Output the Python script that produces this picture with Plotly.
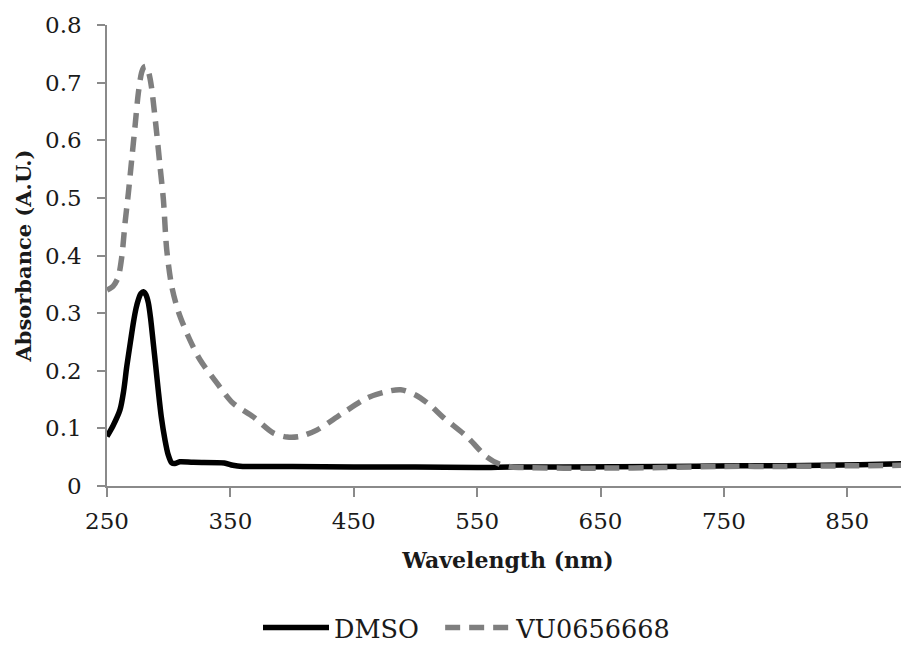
import plotly.graph_objects as go

# DMSO spectrum (wavelength nm, absorbance A.U.)
dmso_wl = [250, 255, 260.5, 263.5, 266, 269, 271.5, 273.5, 275.5, 277.5, 279.5, 281.5, 283.5, 285.5, 287.5, 289.5, 291.5, 294, 297, 299.5, 302.5, 305, 309, 320, 345, 352, 360, 400, 450, 500, 550, 580, 620, 700, 760, 800, 860, 900]
dmso_abs = [0.086, 0.105, 0.132, 0.165, 0.207, 0.25, 0.285, 0.308, 0.324, 0.334, 0.337, 0.332, 0.318, 0.288, 0.248, 0.208, 0.167, 0.12, 0.08, 0.055, 0.04, 0.039, 0.042, 0.041, 0.040, 0.036, 0.034, 0.034, 0.033, 0.033, 0.032, 0.033, 0.033, 0.034, 0.035, 0.035, 0.037, 0.039]

# VU0656668 spectrum
vu_wl = [250, 255, 259, 262, 264.6, 267.3, 270, 272.7, 275.4, 278, 280, 282, 284, 286, 290, 293, 295.7, 298.4, 302.5, 307.8, 316, 325.4, 339, 352, 368.6, 384.8, 396, 406.5, 420, 440, 461, 475, 488, 500, 512, 522, 542, 558, 568, 578, 590, 620, 650, 700, 750, 800, 850, 900]
vu_abs = [0.34, 0.347, 0.362, 0.398, 0.456, 0.508, 0.566, 0.624, 0.682, 0.717, 0.727, 0.728, 0.716, 0.693, 0.618, 0.554, 0.497, 0.41, 0.346, 0.303, 0.259, 0.219, 0.179, 0.144, 0.12, 0.092, 0.085, 0.086, 0.097, 0.125, 0.153, 0.163, 0.167, 0.158, 0.14, 0.12, 0.085, 0.05, 0.038, 0.033, 0.032, 0.031, 0.031, 0.032, 0.034, 0.034, 0.035, 0.036]

series_names = ["DMSO", "VU0656668"]
x_ticks = [250, 350, 450, 550, 650, 750, 850]
y_ticks = [0, 0.1, 0.2, 0.3, 0.4, 0.5, 0.6, 0.7, 0.8]
y_labels = ["0", "0.1", "0.2", "0.3", "0.4", "0.5", "0.6", "0.7", "0.8"]

FONT = "DejaVu Serif"
AXIS_COLOR = "#8a8a8a"
TEXT_COLOR = "#1a1a1a"
FIG_W, FIG_H = 901, 638

fig = go.Figure()
fig.add_trace(go.Scatter(
    x=dmso_wl, y=dmso_abs, mode="lines", name=series_names[0] + "&nbsp;&nbsp;",
    line=dict(color="#000000", width=5.5, shape="spline", smoothing=0.8),
))
fig.add_trace(go.Scatter(
    x=vu_wl, y=vu_abs, mode="lines", name=series_names[1],
    line=dict(color="#7f7f7f", width=5.5, dash="15px,9px", shape="spline", smoothing=0.8),
))

fig.update_layout(
    width=FIG_W, height=FIG_H,
    margin=dict(l=99, r=0, t=17, b=160),
    paper_bgcolor="white", plot_bgcolor="white",
    font=dict(family=FONT, color=TEXT_COLOR),
    showlegend=True,
    legend=dict(
        orientation="h", xref="container", yref="container",
        x=250 / FIG_W, xanchor="left", y=(FIG_H - 620) / FIG_H, yanchor="middle",
        font=dict(family=FONT, size=25.5, color=TEXT_COLOR),
        itemwidth=66,
    ),
    xaxis=dict(
        range=[250, 900], tickmode="array", tickvals=x_ticks,
        ticktext=[str(v) for v in x_ticks],
        showgrid=False, zeroline=False,
        showline=True, linecolor=AXIS_COLOR, linewidth=1.5,
        ticks="outside", ticklen=9, tickwidth=1.5, tickcolor=AXIS_COLOR,
        tickfont=dict(family=FONT, size=23, color=TEXT_COLOR),
        ticklabelstandoff=5,
        title=dict(text="<b>Wavelength (nm)</b>", font=dict(family=FONT, size=22, color=TEXT_COLOR), standoff=19),
        automargin=False,
    ),
    yaxis=dict(
        range=[0, 0.8], tickmode="array", tickvals=y_ticks, ticktext=y_labels,
        showgrid=False, zeroline=False,
        showline=True, linecolor=AXIS_COLOR, linewidth=1.5,
        ticks="outside", ticklen=8, tickwidth=1.5, tickcolor=AXIS_COLOR,
        tickfont=dict(family=FONT, size=23, color=TEXT_COLOR),
        ticklabelstandoff=11,
        title=dict(text="<b>Absorbance (A.U.)</b>", font=dict(family=FONT, size=21, color=TEXT_COLOR), standoff=8),
        automargin=False,
    ),
)

fig.write_html("out.html")
